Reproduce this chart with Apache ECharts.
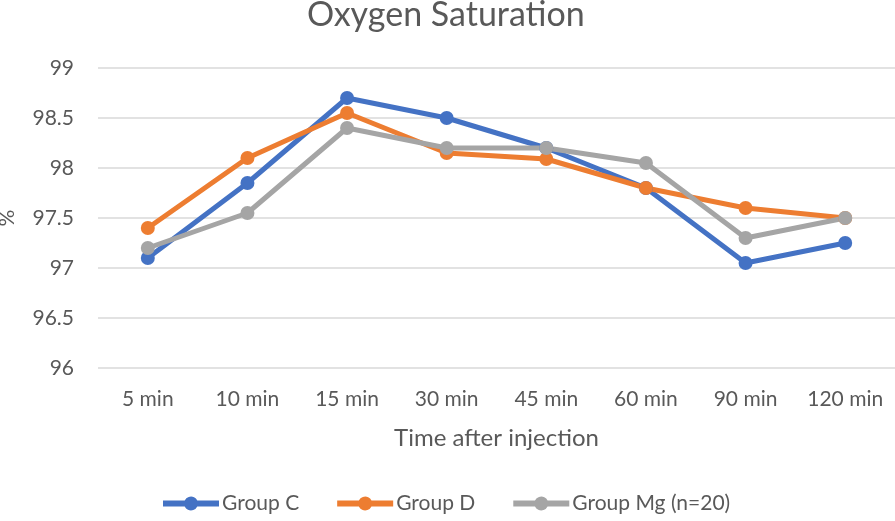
<!DOCTYPE html>
<html><head><meta charset="utf-8">
<script src="https://cdn.jsdelivr.net/npm/echarts@6/dist/echarts.min.js"></script>
<style>html,body{margin:0;padding:0;background:#fff}#c{width:895px;height:521px}</style>
</head><body><div id="c"></div>
<script>
const categories = ["5 min","10 min","15 min","30 min","45 min","60 min","90 min","120 min"];
const groupC = [97.1, 97.85, 98.7, 98.5, 98.2, 97.8, 97.05, 97.25];
const groupD = [97.4, 98.1, 98.55, 98.15, 98.09, 97.8, 97.6, 97.5];
const groupMg = [97.2, 97.55, 98.4, 98.2, 98.2, 98.05, 97.3, 97.5];
const seriesNames = ["Group C","Group D","Group Mg (n=20)"];
const colors = ["#4472C4","#ED7D31","#A5A5A5"];

const FONT = "Lato, 'Open Sans', sans-serif";
const LEGEND_ICON = 'path://M0,4 H21.7 A7,7 0 0 1 34.3,4 H56 V10 H34.3 A7,7 0 0 1 21.7,10 H0 Z';
const chart = echarts.init(document.getElementById('c'), null, {renderer:'canvas'});
const mk = (name, data, color) => ({
  name, type:'line', data, symbol:'circle', symbolSize:14,
  lineStyle:{width:5, color}, itemStyle:{color}, z: 2
});
chart.setOption({
  animation:false,
  color: colors,
  title:{text:'Oxygen Saturation', left:302, top:-7,
    textStyle:{fontFamily:FONT, fontSize:34, fontWeight:'normal', color:'#595959'}},
  grid:{left:98, right:0, top:68, bottom:153, containLabel:false, outerBoundsMode:'none'},
  xAxis:{type:'category', data:categories, boundaryGap:true,
    axisLine:{show:false}, axisTick:{show:false},
    axisLabel:{color:'#595959', fontSize:21, fontFamily:FONT, margin:21},
    name:'Time after injection', nameLocation:'middle', nameGap:58,
    nameTextStyle:{color:'#595959', fontSize:24, fontFamily:FONT}},
  yAxis:{type:'value', min:96, max:99, interval:0.5,
    axisLine:{show:false}, axisTick:{show:false},
    splitLine:{lineStyle:{color:'#D9D9D9', width:1.5}},
    axisLabel:{color:'#595959', fontSize:21, fontFamily:FONT, margin:24},
    name:'%', nameLocation:'middle', nameGap:80, nameRotate:90,
    nameTextStyle:{color:'#595959', fontSize:21, fontFamily:FONT}},
  legend:{bottom:2, left:158, icon:LEGEND_ICON, itemWidth:56, itemHeight:14, itemGap:38,
    itemStyle:{borderWidth:0},
    textStyle:{color:'#595959', fontSize:21, fontFamily:FONT, padding:[0,0,0,-2]},
    data: seriesNames},
  series:[mk(seriesNames[0], groupC, colors[0]), mk(seriesNames[1], groupD, colors[1]), mk(seriesNames[2], groupMg, colors[2])]
});
</script></body></html>
